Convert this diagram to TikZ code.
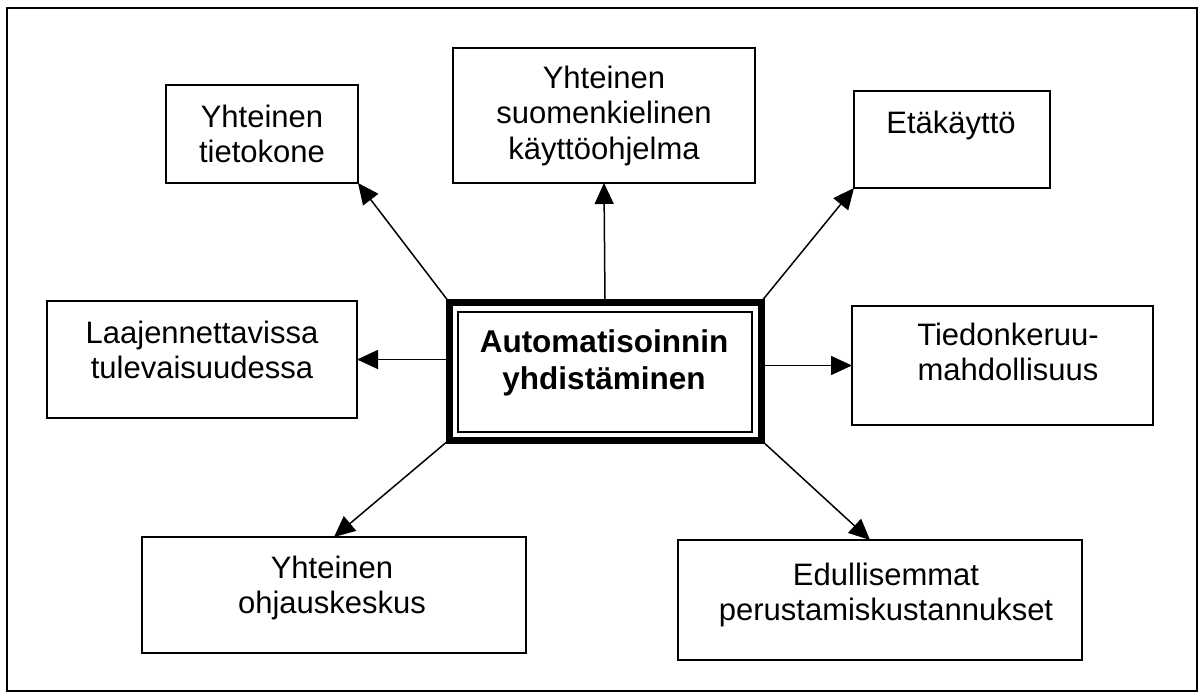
\documentclass[tikz,border=0pt]{standalone}
\usepackage{fontspec}
\setmainfont{Liberation Sans}
\usetikzlibrary{arrows.meta,calc}
\begin{document}
\begin{tikzpicture}[x=1pt,y=-1pt,
  box/.style={draw, line width=2pt, inner sep=0pt, outer sep=0pt},
  lbl/.style={anchor=north, align=center, inner sep=0pt, font=\fontsize{31}{35.5}\selectfont},
  mlbl/.style={anchor=north, align=center, inner sep=0pt, font=\bfseries\fontsize{31.5}{37}\selectfont},
  arr/.style={line width=1.5pt, -{Triangle[length=21pt,width=19pt]}}
]
\useasboundingbox (0,0) rectangle (1203,698);
\draw[line width=2pt] (7,8) rectangle (1197,691);

% boxes
\node[box, minimum width=192pt, minimum height=98pt]  (A) at (262,134) {};
\node[box, minimum width=302pt, minimum height=135pt] (B) at (604,115.5) {};
\node[box, minimum width=196pt, minimum height=97pt]  (C) at (952,139.5) {};
\node[box, minimum width=310pt, minimum height=117pt] (D) at (202,359.5) {};
\node[box, minimum width=301pt, minimum height=119pt] (E) at (1002.5,365.5) {};
\node[box, minimum width=384pt, minimum height=116pt] (F) at (334,595) {};
\node[box, minimum width=404pt, minimum height=120pt] (G) at (880,600) {};
\node[box, line width=7pt, minimum width=312pt, minimum height=138pt] (M) at (605,371) {};
\draw[line width=1.5pt] ($(M.north west)+(9,10)$) rectangle ($(M.south east)+(-9,-8)$);

% labels
\node[lbl] (tA) at (262,104.5) {Yhteinen\\tietokone};
\node[lbl] (tB) at (604,65.5) {Yhteinen\\suomenkielinen\\käyttöohjelma};
\node[lbl] (tC) at (951,110.5) {Etäkäyttö};
\node[lbl] (tD) at (202,320.5) {Laajennettavissa\\tulevaisuudessa};
\node[lbl] (tE) at (1008,322.5) {Tiedonkeruu-\\mahdollisuus};
\node[lbl] (tF) at (332,555.5) {Yhteinen\\ohjauskeskus};
\node[lbl] (tG) at (886,562.5) {Edullisemmat\\perustamiskustannukset};
\node[mlbl] (tM) at (604,329.5) {Automatisoinnin\\yhdistäminen};

% connectors
\draw[arr] (M.north west) -- (A.south east);
\draw[arr] (M.north) -- (B.south);
\draw[arr] (M.north east) -- (C.south west);
\draw[arr] (M.west |- D.east) -- (D.east);
\draw[arr] (M.east |- E.west) -- (E.west);
\draw[arr] (M.south west) -- (F.north);
\draw[arr] (M.south east) -- ([xshift=-10pt]G.north);
\end{tikzpicture}
\end{document}
